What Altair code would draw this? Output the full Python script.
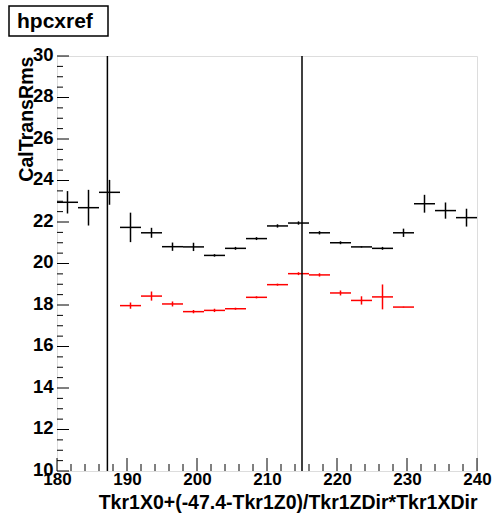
import altair as alt
import pandas as pd

# ---- data ----
BIN_WIDTH = 3.0
black_x = [181.5, 184.5, 187.5, 190.5, 193.5, 196.5, 199.5, 202.5, 205.5, 208.5,
           211.5, 214.5, 217.5, 220.5, 223.5, 226.5, 229.5, 232.5, 235.5, 238.5]
black_y = [22.95, 22.69, 23.43, 21.74, 21.48, 20.81, 20.80, 20.39, 20.73, 21.20,
           21.81, 21.95, 21.48, 21.00, 20.80, 20.73, 21.48, 22.88, 22.55, 22.21]
black_err = [0.54, 0.86, 0.60, 0.71, 0.24, 0.20, 0.20, 0.06, 0.07, 0.07,
             0.08, 0.08, 0.08, 0.07, 0.03, 0.07, 0.20, 0.43, 0.39, 0.43]

red_x = [190.5, 193.5, 196.5, 199.5, 202.5, 205.5, 208.5, 211.5, 214.5, 217.5,
         220.5, 223.5, 226.5, 229.5]
red_y = [17.97, 18.43, 18.05, 17.68, 17.74, 17.82, 18.37, 18.98, 19.51, 19.45,
         18.58, 18.22, 18.39, 17.90]
red_err = [0.15, 0.22, 0.12, 0.08, 0.08, 0.05, 0.05, 0.05, 0.07, 0.08,
           0.12, 0.20, 0.60, 0.02]

cut_lines = [187.2, 215.0]

x_major = [180, 190, 200, 210, 220, 230, 240]
x_minor = [182, 184, 186, 188, 192, 194, 196, 198, 202, 204, 206, 208, 212, 214,
           216, 218, 222, 224, 226, 228, 232, 234, 236, 238]
y_major = [10, 12, 14, 16, 18, 20, 22, 24, 26, 28, 30]
y_minor = [10.5, 11, 11.5, 12.5, 13, 13.5, 14.5, 15, 15.5, 16.5, 17, 17.5,
           18.5, 19, 19.5, 20.5, 21, 21.5, 22.5, 23, 23.5, 24.5, 25, 25.5,
           26.5, 27, 27.5, 28.5, 29, 29.5]

title_text = "hpcxref"
x_title = "Tkr1X0+(-47.4-Tkr1Z0)/Tkr1ZDir*Tkr1XDir"
y_title = "CalTransRms"

W, H = 420, 415
FONT = "Liberation Sans"

# ---- tables ----
def series(xs, ys, es, name):
    return pd.DataFrame({
        "x": xs, "y": ys, "err": es, "series": name,
    })

df = pd.concat([series(black_x, black_y, black_err, "ref"),
                series(red_x, red_y, red_err, "cur")], ignore_index=True)
df["xlo"] = df["x"] - BIN_WIDTH / 2
df["xhi"] = df["x"] + BIN_WIDTH / 2
df["ylo"] = df["y"] - df["err"]
df["yhi"] = df["y"] + df["err"]

xs = alt.Scale(domain=[180, 240], nice=False, zero=False)
ys = alt.Scale(domain=[10, 30], nice=False, zero=False)

color = alt.Color("series:N", scale=alt.Scale(domain=["ref", "cur"],
                                                range=["#000000", "#ff0000"]),
                  legend=None)

base = alt.Chart(df)

hbar = base.mark_rule(strokeWidth=1.5).encode(
    x=alt.X("xlo:Q", scale=xs,
            axis=alt.Axis(title=x_title, values=x_major, format="d",
                          labelFont=FONT, labelFontWeight="bold", labelFontSize=17,
                          labelBaseline="top", labelPadding=0, labelFlush=False,
                          titleFont=FONT, titleFontWeight="bold", titleFontSize=19.5,
                          titleAlign="right", titleAnchor="end", titleX=W, titleY=37,
                          titleBaseline="alphabetic",
                          ticks=False, domain=False, grid=False)),
    x2="xhi:Q",
    y=alt.Y("y:Q", scale=ys,
            axis=alt.Axis(title=y_title, values=y_major, format="d",
                          labelFont=FONT, labelFontWeight="bold", labelFontSize=18.5,
                          labelPadding=4, labelFlush=False, labelBaseline="middle",
                          labelOffset=-2,
                          titleFont=FONT, titleFontWeight="bold", titleFontSize=19.6,
                          titleAngle=270, titleAlign="right", titleAnchor="end",
                          titleX=-25, titleY=0, titleBaseline="alphabetic",
                          ticks=False, domain=False, grid=False)),
    color=color,
)

vbar = base.mark_rule(strokeWidth=1.5).encode(
    x=alt.X("x:Q", scale=xs),
    y=alt.Y("ylo:Q", scale=ys),
    y2="yhi:Q",
    color=color,
)

cuts = alt.Chart(pd.DataFrame({"c": cut_lines})).mark_rule(
    color="black", strokeWidth=1.5).encode(x=alt.X("c:Q", scale=xs))

xmaj = alt.Chart(pd.DataFrame({"t": x_major})).mark_rule(color="black", strokeWidth=1).encode(
    x=alt.X("t:Q", scale=xs), y=alt.value(H), y2=alt.value(H - 13))
xmin = alt.Chart(pd.DataFrame({"t": x_minor})).mark_rule(color="black", strokeWidth=1).encode(
    x=alt.X("t:Q", scale=xs), y=alt.value(H), y2=alt.value(H - 7))
ymaj = alt.Chart(pd.DataFrame({"t": y_major})).mark_rule(color="black", strokeWidth=1).encode(
    y=alt.Y("t:Q", scale=ys), x=alt.value(0), x2=alt.value(12))
ymin = alt.Chart(pd.DataFrame({"t": y_minor})).mark_rule(color="black", strokeWidth=1).encode(
    y=alt.Y("t:Q", scale=ys), x=alt.value(0), x2=alt.value(6))

tbox = alt.Chart(pd.DataFrame({"t": [title_text]})).mark_rect(
    fill="white", stroke="black", strokeWidth=1.5).encode(
    x=alt.value(-48), x2=alt.value(51), y=alt.value(-50), y2=alt.value(-20))
ttext = alt.Chart(pd.DataFrame({"t": [title_text]})).mark_text(
    font=FONT, fontWeight="bold", fontSize=21, align="left", baseline="alphabetic",
    color="black").encode(x=alt.value(-40), y=alt.value(-28), text="t:N")

chart = alt.layer(hbar, vbar, cuts, xmaj, xmin, ymaj, ymin, tbox, ttext).properties(
    width=W, height=H,
    autosize=alt.AutoSizeParams(type="none"),
    padding={"left": 57, "top": 56, "right": 18, "bottom": 42},
).configure_view(stroke="black", strokeWidth=1.5).configure(background="white")

chart.save("out.html", embed_options={"renderer": "svg", "actions": False})
